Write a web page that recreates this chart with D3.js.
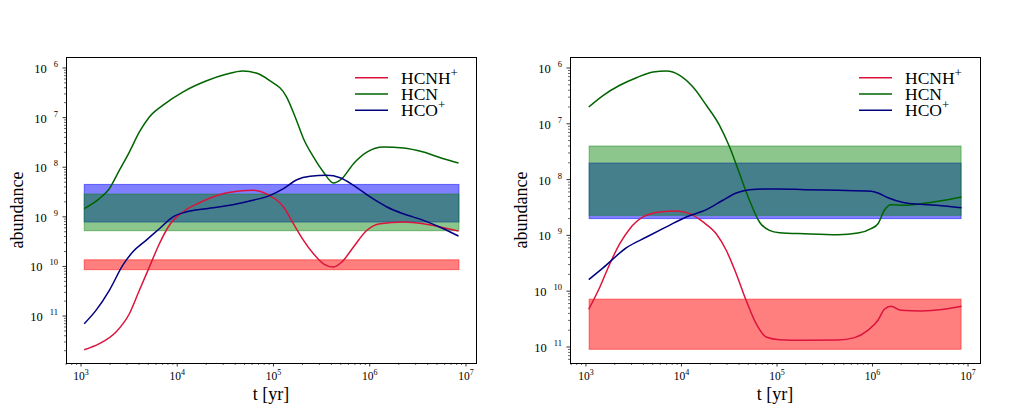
<!DOCTYPE html>
<html>
<head>
<meta charset="utf-8">
<script src="https://cdn.jsdelivr.net/npm/d3@7"></script>
<style>
body { margin: 0; background: #fff; }
svg { display: block; }
text { font-family: 'Liberation Serif', 'Times New Roman', 'DejaVu Serif', serif; fill: #000; }
</style>
</head>
<body>
<script>
'use strict';
// species and colours
let species = ["HCNH+", "HCN", "HCO+"];
let speciesBase = ["HCNH", "HCN", "HCO"];
let speciesSup = ["+", "", "+"];

// exponents shown on the axes
let xTickExp = [3, 4, 5, 6, 7];
let yTickExp = [6, 7, 8, 9, 10, 11];

// left panel: [t (yr), abundance]
let leftHCNH = [[1.08e3,2.09e-12],[1.55e3,2.77e-12],[2.31e3,4.76e-12],[3.18e3,1.11e-11],[4.04e3,3.30e-11],
  [5.13e3,9.72e-11],[6.52e3,2.87e-10],[8.28e3,6.75e-10],[1.14e4,1.25e-9],[1.70e4,1.92e-9],[2.74e4,2.79e-9],
  [4.43e4,3.31e-9],[6.09e4,3.42e-9],[8.38e4,2.92e-9],[1.27e5,1.58e-9],[1.61e5,7.26e-10],[2.05e5,3.36e-10],
  [2.60e5,1.80e-10],[3.30e5,1.13e-10],[4.20e5,9.72e-11],[5.13e5,1.23e-10],[6.78e5,2.46e-10],[9.33e5,5.35e-10],
  [1.28e6,7.26e-10],[2.24e6,7.85e-10],[3.61e6,7.26e-10],[5.83e6,6.03e-10],[8.36e6,5.18e-10]];
let leftHCN = [[1.08e3,1.46e-9],[1.55e3,2.32e-9],[1.97e3,3.69e-9],[2.50e3,8.65e-9],[3.18e3,2.02e-8],
  [4.04e3,5.13e-8],[5.13e3,1.03e-7],[7.06e3,1.77e-7],[1.14e4,3.28e-7],[1.99e4,5.47e-7],[3.21e4,7.46e-7],
  [4.80e4,8.70e-7],[6.59e4,7.93e-7],[9.06e4,5.65e-7],[1.37e5,2.60e-7],[1.68e5,1.03e-7],[2.05e5,3.76e-8],
  [2.60e5,1.61e-8],[3.30e5,8.0e-9],[4.20e5,4.8e-9],[5.13e5,5.86e-9],[6.78e5,1.18e-8],[9.33e5,2.02e-8],
  [1.39e6,2.55e-8],[2.24e6,2.44e-8],[3.61e6,2.02e-8],[5.83e6,1.48e-8],[8.36e6,1.22e-8]];
let leftHCO = [[1.08e3,7.0e-12],[1.43e3,1.30e-11],[1.97e3,3.30e-11],[2.71e3,1.05e-10],[3.44e3,1.95e-10],
  [4.74e3,3.36e-10],[6.52e3,5.75e-10],[8.97e3,9.9e-10],[1.23e4,1.25e-9],[1.99e4,1.46e-9],[3.78e4,1.75e-9],
  [6.09e4,2.15e-9],[9.22e4,2.71e-9],[1.27e5,3.69e-9],[1.75e5,5.60e-9],[2.40e5,6.56e-9],[3.58e5,6.87e-9],
  [4.92e5,6.14e-9],[6.78e5,4.31e-9],[1.01e6,2.51e-9],[1.51e6,1.58e-9],[2.24e6,1.15e-9],[3.61e6,8.49e-10],
  [5.83e6,5.75e-10],[8.36e6,4.10e-10]];

// right panel: [t (yr), abundance]
let rightHCNH = [[1.07e3,4.74e-11],[1.40e3,1.19e-10],[1.78e3,3.11e-10],[2.26e3,7.10e-10],[2.88e3,1.32e-9],
  [3.96e3,2.14e-9],[5.92e3,2.62e-9],[8.85e3,2.74e-9],[1.22e4,2.45e-9],[1.68e4,1.74e-9],[2.31e4,1.07e-9],
  [2.94e4,5.41e-10],[3.74e4,2.06e-10],[4.75e4,6.87e-11],[6.05e4,2.62e-11],[7.69e4,1.51e-11],[1.06e5,1.35e-11],
  [1.95e5,1.32e-11],[4.34e5,1.33e-11],[6.47e5,1.47e-11],[8.93e5,1.99e-11],[1.14e6,3.01e-11],[1.33e6,4.74e-11],
  [1.56e6,5.36e-11],[1.99e6,4.55e-11],[3.21e6,4.42e-11],[5.63e6,4.74e-11],[8.55e6,5.36e-11]];
let rightHCN = [[1.07e3,2.0e-7],[1.52e3,3.24e-7],[2.26e3,4.90e-7],[3.38e3,6.70e-7],[5.05e3,8.47e-7],
  [6.95e3,8.83e-7],[9.57e3,7.40e-7],[1.32e4,4.56e-7],[1.82e4,2.15e-7],[2.50e4,9.40e-8],[3.19e4,3.84e-8],
  [4.05e4,1.28e-8],[5.15e4,4.26e-9],[6.55e4,1.74e-9],[8.33e4,1.23e-9],[1.06e5,1.12e-9],[1.95e5,1.07e-9],
  [4.34e5,1.03e-9],[7.03e5,1.10e-9],[9.66e5,1.32e-9],[1.14e6,1.62e-9],[1.33e6,2.82e-9],[1.56e6,3.55e-9],
  [2.15e6,3.46e-9],[3.21e6,3.70e-9],[5.63e6,4.26e-9],[8.55e6,4.88e-9]];
let rightHCO = [[1.07e3,1.61e-10],[1.52e3,2.64e-10],[2.66e3,6.03e-10],[4.31e3,9.35e-10],[6.95e3,1.42e-9],
  [1.12e4,2.14e-9],[1.82e4,2.89e-9],[2.71e4,4.26e-9],[3.74e4,5.75e-9],[5.15e4,6.59e-9],[7.10e4,6.79e-9],
  [1.06e5,6.79e-9],[1.95e5,6.59e-9],[4.34e5,6.43e-9],[9.66e5,6.17e-9],[1.14e6,5.75e-9],[1.45e6,4.74e-9],
  [2.15e6,3.86e-9],[3.21e6,3.61e-9],[5.63e6,3.37e-9],[8.55e6,3.13e-9]];

// observed ranges [low, high], drawn over the model time span
let bandTime = [1.08e3, 8.45e6];
let leftBandHCNH = [8.6e-11, 1.36e-10];
let leftBandHCN = [5.25e-10, 2.88e-9];
let leftBandHCO = [7.85e-10, 4.5e-9];
let rightBandHCNH = [9.1e-12, 7.2e-11];
let rightBandHCN = [2.29e-9, 4.0e-8];
let rightBandHCO = [2.0e-9, 1.98e-8];

let lineColors = ["#dc143c", "#006400", "#000080"];
let bandColors = ["rgba(255,0,0,0.5)", "rgba(0,128,0,0.45)", "rgba(0,0,255,0.5)"];

let svg = d3.select("body").append("svg")
	.attr("width", 1034)
	.attr("height", 418)
	.attr("font-family", "'Liberation Serif', 'Times New Roman', serif");

let panels = [
	{x0: 66, x1: 476, lx: [2.844, 7.104], ly: [-11.947, -5.778],
	 series: [leftHCNH, leftHCN, leftHCO], bands: [leftBandHCNH, leftBandHCN, leftBandHCO]},
	{x0: 570, x1: 980, lx: [2.833, 7.125], ly: [-11.287, -5.803],
	 series: [rightHCNH, rightHCN, rightHCO], bands: [rightBandHCNH, rightBandHCN, rightBandHCO]}
];
let plotTop = 57, plotBottom = 363;

panels.forEach(function(p) {
	let x = d3.scaleLog().domain([10 ** p.lx[0], 10 ** p.lx[1]]).range([p.x0, p.x1]);
	let y = d3.scaleLog().domain([10 ** p.ly[0], 10 ** p.ly[1]]).range([plotBottom, plotTop]);
	let g = svg.append("g");

	// bands: blue first, then green over it, then red
	[2, 1, 0].forEach(function(i) {
		let b = p.bands[i];
		g.append("rect")
			.attr("x", x(bandTime[0]))
			.attr("width", x(bandTime[1]) - x(bandTime[0]))
			.attr("y", y(b[1]))
			.attr("height", y(b[0]) - y(b[1]))
			.attr("fill", bandColors[i])
			.attr("stroke", bandColors[i])
			.attr("stroke-width", 1);
	});

	let line = d3.line()
		.x(function(d){ return x(d[0]); })
		.y(function(d){ return y(d[1]); })
		.curve(d3.curveMonotoneX);

	g.selectAll("path.curve")
		.data(p.series)
		.enter().append("path")
			.attr("class", "curve")
			.attr("d", line)
			.attr("fill", "none")
			.attr("stroke", function(d,i){ return lineColors[i]; })
			.attr("stroke-width", 1.5);

	// x ticks
	let xMinor = [];
	for (let e = 2; e <= 7; e++) for (let k = 2; k <= 9; k++) {
		let v = k * 10 ** e;
		if (Math.log10(v) >= p.lx[0] && Math.log10(v) <= p.lx[1]) xMinor.push(v);
	}
	g.selectAll("line.xminor").data(xMinor).enter().append("line")
		.attr("x1", function(d){ return x(d); }).attr("x2", function(d){ return x(d); })
		.attr("y1", plotBottom).attr("y2", plotBottom + 2)
		.attr("stroke", "#000").attr("stroke-width", 0.6);
	g.selectAll("line.xmajor").data(xTickExp).enter().append("line")
		.attr("x1", function(d){ return x(10 ** d); }).attr("x2", function(d){ return x(10 ** d); })
		.attr("y1", plotBottom).attr("y2", plotBottom + 3.5)
		.attr("stroke", "#000").attr("stroke-width", 0.8);
	let xl = g.selectAll("text.xlab").data(xTickExp).enter().append("text")
		.attr("x", function(d){ return x(10 ** d); })
		.attr("y", 379.5)
		.attr("text-anchor", "middle")
		.attr("font-size", 11.5);
	xl.append("tspan").text("10");
	xl.append("tspan").attr("dy", -4.5).attr("font-size", 8).text(function(d){ return d; });

	// y ticks
	let yMinor = [];
	for (let e = -12; e <= -6; e++) for (let k = 2; k <= 9; k++) {
		let v = k * 10 ** e;
		if (Math.log10(v) >= p.ly[0] && Math.log10(v) <= p.ly[1]) yMinor.push(v);
	}
	g.selectAll("line.yminor").data(yMinor).enter().append("line")
		.attr("y1", function(d){ return y(d); }).attr("y2", function(d){ return y(d); })
		.attr("x1", p.x0).attr("x2", p.x0 - 2)
		.attr("stroke", "#000").attr("stroke-width", 0.6);
	g.selectAll("line.ymajor").data(yTickExp).enter().append("line")
		.attr("y1", function(d){ return y(10 ** -d); }).attr("y2", function(d){ return y(10 ** -d); })
		.attr("x1", p.x0).attr("x2", p.x0 - 3.5)
		.attr("stroke", "#000").attr("stroke-width", 0.8);
	let yl = g.selectAll("text.ylab").data(yTickExp).enter().append("text")
		.attr("x", p.x0 - 8)
		.attr("y", function(d){ return y(10 ** -d) + 5; })
		.attr("text-anchor", "end")
		.attr("font-size", 12.5);
	yl.append("tspan").text("10");
	yl.append("tspan").attr("dx", 7).attr("dy", -6).attr("font-size", 8.5).text(function(d){ return d; });

	// frame
	g.append("rect")
		.attr("x", p.x0 + 0.5).attr("y", plotTop + 0.5)
		.attr("width", p.x1 - p.x0).attr("height", plotBottom - plotTop)
		.attr("fill", "none").attr("stroke", "#000").attr("stroke-width", 1);

	// axis titles
	g.append("text")
		.attr("x", (p.x0 + p.x1) / 2).attr("y", 400)
		.attr("text-anchor", "middle").attr("font-size", 18)
		.text("t [yr]");
	g.append("text")
		.attr("transform", "translate(" + (p.x0 - 43) + "," + ((plotTop + plotBottom) / 2) + ") rotate(-90)")
		.attr("text-anchor", "middle").attr("font-size", 18)
		.text("abundance");

	// legend
	let lg = g.append("g").attr("transform", "translate(" + (p.x0 + 289) + ",0)");
	species.forEach(function(s, i) {
		let ly = 77.7 + i * 16.3;
		lg.append("line")
			.attr("x1", 0).attr("x2", 33).attr("y1", ly).attr("y2", ly)
			.attr("stroke", lineColors[i]).attr("stroke-width", 1.5);
		let t = lg.append("text").attr("x", 46).attr("y", ly + 6).attr("font-size", 17.5);
		t.append("tspan").text(speciesBase[i]);
		if (speciesSup[i]) t.append("tspan").attr("dy", -7).attr("font-size", 13).text(speciesSup[i]);
	});
});
</script>
</body>
</html>
